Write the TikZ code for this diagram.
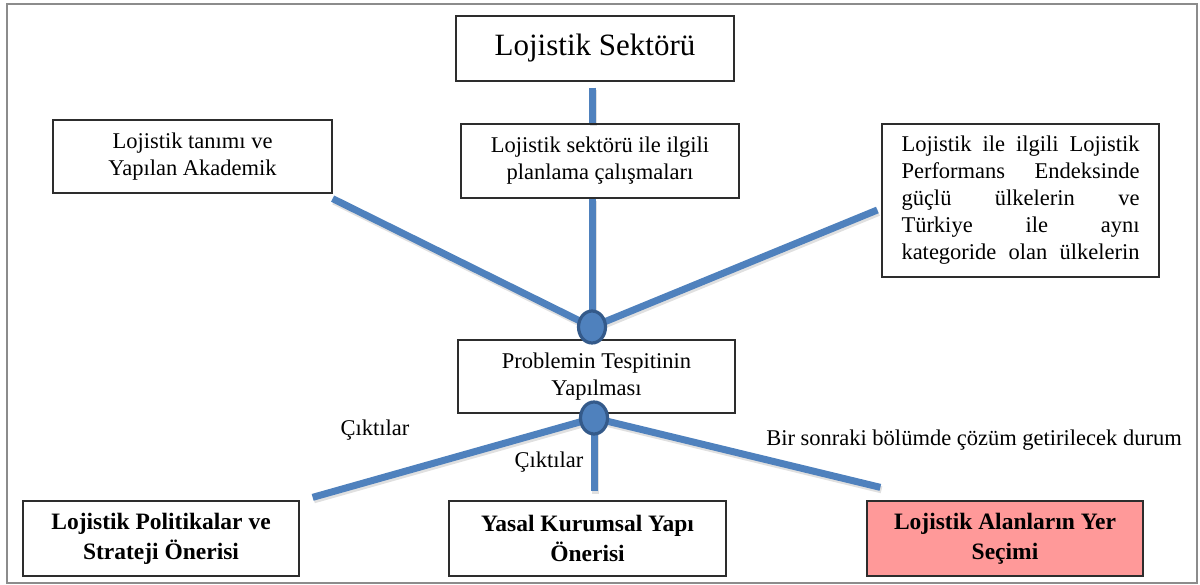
\documentclass[tikz,border=0pt]{standalone}
\usepackage{fontspec}
\setmainfont{Liberation Serif}
\usetikzlibrary{shapes.geometric}

\definecolor{linkblue}{RGB}{79,129,189}
\definecolor{hubedge}{RGB}{52,90,138}
\definecolor{framegray}{RGB}{140,140,140}
\definecolor{boxedge}{RGB}{45,45,45}
\definecolor{rosefill}{RGB}{255,153,153}

\tikzset{
  box/.style={draw=boxedge, line width=1.3pt, fill=white, inner sep=0pt,
    align=center, font=\fontsize{22.5}{27}\selectfont},
  outbox/.style={box, font=\fontsize{23.5}{30}\selectfont\bfseries},
  conn/.style={draw=linkblue, line width=7pt, line cap=butt,
    preaction={draw=black, opacity=0.12, line width=7pt,
      transform canvas={shift={(1.2pt,-2.5pt)}}}},
  hub/.style={ellipse, draw=hubedge, fill=linkblue, line width=3.2pt,
    minimum width=27pt, minimum height=32pt, inner sep=0pt},
  note/.style={inner sep=0pt, font=\fontsize{22.5}{27}\selectfont}
}

\begin{document}
\begin{tikzpicture}[x=1pt,y=-1pt]
\useasboundingbox (0,0) rectangle (1200,585);
\draw[framegray, line width=2.5pt] (7,4) rectangle (1197,583);

% boxes
\node[box, minimum width=278pt, minimum height=65pt,
  font=\fontsize{31}{37}\selectfont] (top) at (595,48.5) {Lojistik Sektörü};
\node[box, minimum width=278pt, minimum height=74pt] (plan) at (600,161)
  {Lojistik sektörü ile ilgili\\planlama çalışmaları};
\node[box, minimum width=279pt, minimum height=73pt] (lit) at (192.5,156.5)
  {Lojistik tanımı ve\\Yapılan Akademik};
\node[box, minimum width=277pt, minimum height=153pt] (lpi) at (1020.5,200.5)
  {\hbox to 238pt{Lojistik\hfill ile\hfill ilgili\hfill Lojistik}\\
   \hbox to 238pt{Performans\hfill Endeksinde}\\
   \hbox to 238pt{güçlü\hfill ülkelerin\hfill ve}\\
   \hbox to 238pt{Türkiye\hfill ile\hfill aynı}\\
   \hbox to 238pt{kategoride\hfill olan\hfill ülkelerin}};
\node[box, minimum width=277pt, minimum height=73pt] (prob) at (596.5,376.5)
  {Problemin Tespitinin\\Yapılması};
\node[outbox, minimum width=276pt, minimum height=75pt] (bl) at (161,538.5)
  {Lojistik Politikalar ve\\Strateji Önerisi};
\node[outbox, minimum width=277pt, minimum height=75pt] (bm) at (587.5,538.5)
  {Yasal Kurumsal Yapı\\Önerisi};
\node[outbox, minimum width=276pt, minimum height=75pt, fill=rosefill] (br)
  at (1005,538.5) {Lojistik Alanların Yer\\Seçimi};

% labels
\node[note] (out1) at (375,430) {Çıktılar};
\node[note] (out2) at (549,462) {Çıktılar};
\node[note] (next) at (974,440) {Bir sonraki bölümde çözüm getirilecek durum};

% junction points
\coordinate (j1) at (592,327);
\coordinate (j2) at (594,418);

% connectors into the upper junction
\draw[conn] ([yshift=-6pt]top.south -| j1) -- (plan.north -| j1);
\draw[conn] (plan.south -| j1) -- (j1);
\draw[conn] ([yshift=-5pt]lit.south east) -- (j1);
\draw[conn] ([shift={(-4pt,-9.5pt)}]lpi.west) -- (j1);

% connectors out of the lower junction
\draw[conn] (j2) -- ([shift={(13pt,3pt)}]bl.north east);
\draw[conn] (j2) -- ([yshift=9pt]bm.north -| j2);
\draw[conn] (j2) -- ([shift={(14pt,13pt)}]br.north west);

% junction markers
\node[hub] (c1) at (j1) {};
\node[hub] (c2) at (j2) {};
\end{tikzpicture}
\end{document}
